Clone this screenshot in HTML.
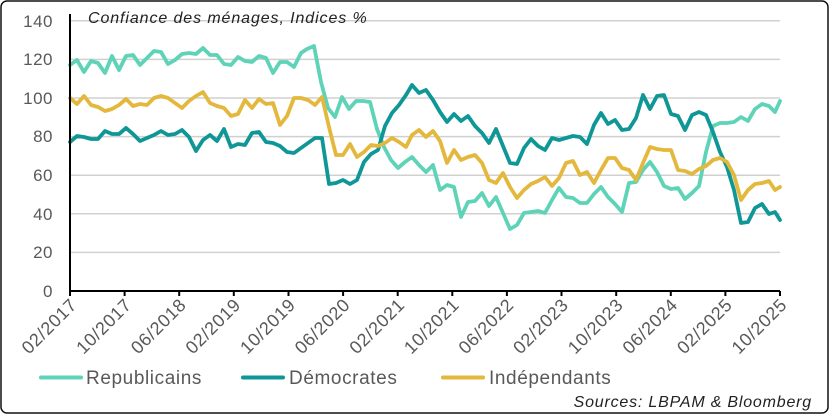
<!DOCTYPE html>
<html><head><meta charset="utf-8"><style>
html,body{margin:0;padding:0;background:#fff}
svg{display:block}
text{font-family:"Liberation Sans",sans-serif;fill:#595959}
</style></head><body>
<svg width="829" height="415" viewBox="0 0 829 415" xmlns="http://www.w3.org/2000/svg">
<rect x="1" y="1" width="827" height="412" rx="6" fill="#fff" stroke="#111" stroke-width="1.5"/>
<g stroke="#d0d0d0" stroke-width="1.5">
<line x1="70" x2="780" y1="252.4" y2="252.4"/><line x1="70" x2="780" y1="213.8" y2="213.8"/>
<line x1="70" x2="780" y1="175.2" y2="175.2"/><line x1="70" x2="780" y1="136.6" y2="136.6"/>
<line x1="70" x2="780" y1="98" y2="98"/><line x1="70" x2="780" y1="59.4" y2="59.4"/>
<line x1="70" x2="780" y1="20.8" y2="20.8"/>
</g>
<g font-size="17" text-anchor="end" letter-spacing="0.5">
<text x="53" y="297">0</text><text x="53" y="258">20</text><text x="53" y="220">40</text>
<text x="53" y="181">60</text><text x="53" y="142">80</text><text x="53" y="104">100</text>
<text x="53" y="65">120</text><text x="53" y="27">140</text>
</g>
<text x="88" y="23" font-size="16" font-style="italic" letter-spacing="0.9" style="fill:#222">Confiance des ménages, Indices %</text>
<g fill="none" stroke-width="3.8" stroke-linejoin="round" stroke-linecap="round">
<polyline stroke="#5fd3b8" points="70,65 77,60 84,72 91,61 98,63 105,73 112,56 119,70 126,56 133,55 140,65 147,58 154,51 161,52 168,64 175,60 182,54 189,53 196,54 203,48 210,55 217,55 224,64 231,65 238,57 245,61 252,62 259,56 266,58 273,73 280,62 287,62 294,67 301,53 307,49 314,46 321,82 328,108 335,117 342,97 349,109 356,101 363,101 370,102 377,129 384,147 391,160 398,168 405,162 412,157 419,165 426,172 433,165 440,190 447,185 454,187 461,217 468,202 475,201 482,193 489,206 496,197 503,213 510,229 517,225 524,213 531,212 538,211 545,213 552,200 559,188 566,197 573,198 580,203 587,203 594,194 601,187 608,197 615,204 622,212 629,183 636,182 643,170 650,162 657,172 664,186 671,189 678,188 685,199 692,193 699,186 706,152 713,126 720,123 727,123 734,122 741,117 748,121 755,109 762,104 769,106 775,112 780,101"/>
<polyline stroke="#0f9696" points="70,142 77,136 84,137 91,139 98,139 105,131 112,134 119,134 126,128 133,134 140,141 147,138 154,135 161,131 168,135 175,134 182,130 189,137 196,151 203,140 210,135 217,141 224,129 231,147 238,144 245,145 252,133 259,132 266,142 273,143 280,146 287,152 294,153 301,148 308,143 315,138 322,138 329,184 336,183 343,180 350,184 357,180 364,162 371,154 378,150 385,126 392,113 399,105 406,95 412,85 419,93 426,90 433,100 440,112 447,122 454,114 461,121 468,116 475,126 482,133 489,143 496,129 503,146 510,163 517,164 524,148 531,139 538,146 545,150 552,138 559,140 566,138 573,136 580,137 587,144 594,125 601,113 608,124 615,120 622,130 629,129 636,118 643,95 650,109 657,96 664,95 671,114 678,116 685,130 692,115 699,112 706,115 713,132 720,152 727,167 734,190 741,223 748,222 755,208 762,204 769,214 775,212 780,220"/>
<polyline stroke="#e3b83c" points="70,98 77,104 84,96 91,105 98,107 105,111 112,109 119,105 126,99 133,106 140,104 147,105 154,98 161,96 168,98 175,103 182,108 189,101 196,96 203,92 210,103 217,106 224,108 231,116 238,114 245,100 252,108 259,99 266,104 273,103 280,125 287,116 294,98 301,98 308,100 315,105 322,97 329,127 336,155 343,155 350,144 357,157 364,152 371,145 378,146 385,143 392,138 399,142 406,147 412,135 419,130 426,137 433,131 440,141 447,163 454,150 461,160 468,157 475,155 482,163 489,180 496,183 503,173 510,187 517,198 524,190 531,184 538,181 545,177 552,186 559,178 566,163 573,161 580,175 587,172 594,183 601,170 608,158 615,158 622,168 629,170 636,180 643,163 650,147 657,149 664,150 671,150 678,170 685,171 692,174 699,169 706,166 713,160 720,158 727,162 734,175 741,200 748,190 755,184 762,183 769,181 775,190 780,187"/>
</g>
<line x1="70" y1="14" x2="70" y2="292" stroke="#000" stroke-width="2"/>
<line x1="69" y1="291" x2="780" y2="291" stroke="#000" stroke-width="2"/>
<g stroke="#000" stroke-width="2">
<line x1="70" x2="70" y1="291" y2="296"/><line x1="124.6" x2="124.6" y1="291" y2="296"/><line x1="179.2" x2="179.2" y1="291" y2="296"/><line x1="233.8" x2="233.8" y1="291" y2="296"/><line x1="288.5" x2="288.5" y1="291" y2="296"/><line x1="343.1" x2="343.1" y1="291" y2="296"/><line x1="397.7" x2="397.7" y1="291" y2="296"/><line x1="452.3" x2="452.3" y1="291" y2="296"/><line x1="506.9" x2="506.9" y1="291" y2="296"/><line x1="561.5" x2="561.5" y1="291" y2="296"/><line x1="616.2" x2="616.2" y1="291" y2="296"/><line x1="670.8" x2="670.8" y1="291" y2="296"/><line x1="725.4" x2="725.4" y1="291" y2="296"/><line x1="780" x2="780" y1="291" y2="296"/>
</g>
<g font-size="18" text-anchor="end" letter-spacing="0.6">
<text transform="translate(78,306) rotate(-45)">02/2017</text>
<text transform="translate(132.6,306) rotate(-45)">10/2017</text>
<text transform="translate(187.2,306) rotate(-45)">06/2018</text>
<text transform="translate(241.8,306) rotate(-45)">02/2019</text>
<text transform="translate(296.5,306) rotate(-45)">10/2019</text>
<text transform="translate(351.1,306) rotate(-45)">06/2020</text>
<text transform="translate(405.7,306) rotate(-45)">02/2021</text>
<text transform="translate(460.3,306) rotate(-45)">10/2021</text>
<text transform="translate(514.9,306) rotate(-45)">06/2022</text>
<text transform="translate(569.5,306) rotate(-45)">02/2023</text>
<text transform="translate(624.2,306) rotate(-45)">10/2023</text>
<text transform="translate(678.8,306) rotate(-45)">06/2024</text>
<text transform="translate(733.4,306) rotate(-45)">02/2025</text>
<text transform="translate(788,306) rotate(-45)">10/2025</text>
</g>
<g stroke-width="4" stroke-linecap="round">
<line x1="41" x2="81" y1="377.5" y2="377.5" stroke="#5fd3b8"/>
<line x1="243" x2="283" y1="377.5" y2="377.5" stroke="#0f9696"/>
<line x1="443" x2="483" y1="377.5" y2="377.5" stroke="#e3b83c"/>
</g>
<g font-size="19" letter-spacing="0.6">
<text x="86" y="384">Republicains</text>
<text x="289" y="384">Démocrates</text>
<text x="489" y="384">Indépendants</text>
</g>
<text x="812" y="407" font-size="16" font-style="italic" text-anchor="end" letter-spacing="0.8" style="fill:#222">Sources: LBPAM &amp; Bloomberg</text>
</svg>
</body></html>
